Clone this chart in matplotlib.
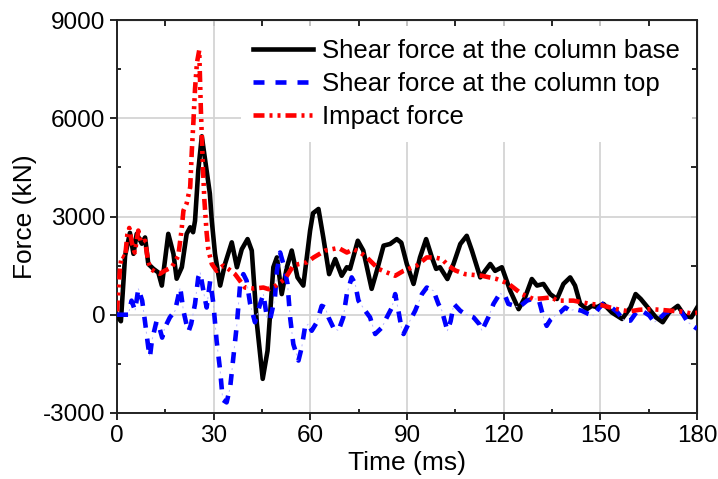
import numpy as np
import matplotlib.pyplot as plt
from matplotlib.ticker import MultipleLocator

# shear force at column base (black)
base_t = [0, 0.5, 1.2, 2.5, 4.0, 5.1, 6.1, 7.7, 8.7, 9.7, 11.3, 12.8, 13.9, 15.9, 17.5, 18.5,
          20.1, 21.6, 22.7, 23.6, 24.2, 25.2, 26.3, 27.8, 28.8, 29.4, 30.4, 32.0, 33.5, 35.6,
          37.2, 38.7, 40.5, 41.8, 43.4, 45.2, 46.7, 48.5, 49.6, 51.1, 52.7, 54.2, 56.0, 57.8,
          59.9, 60.8, 62.5, 64.0, 65.8, 67.7, 69.7, 71.3, 72.3, 74.7, 76.4, 79.0, 80.6, 82.7,
          84.7, 86.8, 88.2, 89.9, 92.0, 94.0, 95.9, 97.7, 99.0, 100.2, 102.5, 104.4, 106.5,
          108.5, 110.1, 112.7, 114.2, 115.8, 117.3, 119.4, 122.0, 124.6, 126.6, 128.7, 130.3,
          132.3, 134.4, 136.5, 138.5, 140.6, 142.1, 143.7, 145.8, 147.3, 148.9, 150.9, 153.5,
          156.7, 159.3, 160.9, 162.5, 165.1, 167.2, 169.3, 171.3, 174.0, 176.1, 178.2, 180]
base_f = [0, -100, -200, 1800, 2500, 1860, 2470, 2170, 2360, 1550, 1400, 1290, 890, 2470, 1860, 1100,
          1450, 2470, 2670, 2520, 2870, 4400, 5450, 4400, 3700, 2870, 1860, 890, 1550, 2210,
          1450, 2000, 2310, 1960, -280, -1960, -1100, 1450, 1750, 630, 1450, 1960, 1140, 890,
          2570, 3100, 3230, 2360, 1240, 1700, 1190, 1450, 1400, 2260, 1960, 790, 1340, 2110,
          2160, 2310, 2200, 1550, 940, 1750, 2310, 1750, 1400, 1450, 1090, 1550, 2160,
          2410, 1960, 1140, 1340, 1550, 1340, 1450, 730, 170, 530, 1090, 890,
          940, 630, 480, 940, 1140, 890, 330, 170, 270, 230, 330, 70,
          -130, 220, 630, 480, 170, -80, -230, 70, 270, -30, -80, 220]

# shear force at column top (blue)
top_t = [0, 1.5, 3.5, 4.5, 5.6, 6.6, 7.8, 8.7, 9.7, 10.2, 10.8, 12.3, 13.3, 14.0, 14.8, 16.4,
         18.0, 19.6, 20.6, 22.1, 23.0, 24.2, 25.2, 25.8, 26.8, 27.8, 28.9, 29.9, 30.9, 32.0,
         32.8, 34.0, 35.1, 36.1, 37.2, 38.2, 39.2, 40.2, 41.3, 42.8, 44.4, 45.4, 46.5, 47.5,
         49.0, 49.6, 50.6, 51.6, 52.9, 53.7, 54.7, 56.3, 57.3, 58.3, 59.4, 60.4, 62.0, 63.5,
         64.6, 65.6, 67.1, 68.7, 70.2, 71.3, 72.8, 73.9, 74.9, 77.0, 78.5, 80.1, 82.2, 83.7,
         85.3, 86.3, 87.3, 88.4, 88.9, 90.9, 92.5, 94.6, 96.1, 98.2, 99.7, 100.8, 102.5, 103.5,
         104.5, 106.5, 108.0, 110.6, 112.5, 113.2, 115.2, 116.8, 118.8, 120.4, 121.4, 123.5,
         124.6, 127.2, 128.7, 130.8, 132.3, 133.3, 134.5, 136.5, 137.5, 139.1, 140.6, 142.1,
         144.2, 146.3, 147.8, 149.5, 151.4, 152.5, 155.2, 157.3, 159.3, 161.9, 165.1, 166.7,
         168.5, 170.3, 172.9, 175.0, 177.1, 180]
top_f = [0, 0, 0, 430, 120, 800, 430, -230, -1000, -1300, -800, -180, -450, -700, -400, -80,
         120, 830, 120, -540, -280, 330, 1140, 1290, 730, 220, 1040, 330, -800, -1710,
         -2600, -2680, -2220, -1300, -280, 940, 1240, 1040, 330, -230, 330, 630, -80, -150,
         530, 1340, 1900, 1550, 940, -80, -900, -1400, -1000, -390, -280, -490, -230, 270,
         220, -80, -390, -490, -80, 630, 1140, 940, 430, 120, -80, -590, -390, -80,
         220, 630, 120, -490, -590, -180, 120, 630, 830, 730, 330, 120, -490, -200,
         330, 120, 20, -80, -300, -490, -80, 330, 650, 580, 330, 270,
         220, 430, 480, 480, -80, -340, -150, 20, 70, 220, 120, 170,
         120, 20, -30, 200, 390, 290, 80, -180, -180, 180, -20, -230,
         -100, 70, 120, 100, -230, -430]

# impact force (red)
imp_t = [0, 0.5, 1.0, 1.5, 2.5, 3.2, 3.8, 4.6, 5.5, 6.6, 7.4, 8.7, 9.6, 10.4, 12.0, 13.3,
         14.9, 17.0, 19.0, 20.0, 20.6, 21.6, 22.7, 23.2, 23.7, 24.2, 24.8, 25.5, 26.0, 26.6,
         27.1, 27.8, 28.3, 29.4, 30.9, 33.0, 34.5, 36.6, 39.7, 42.5, 45.4, 47.0, 49.5, 52.1,
         54.7, 56.5, 58.9, 61.0, 64.6, 68.7, 71.3, 73.4, 75.5, 77.5, 81.1, 83.5, 86.3, 88.9,
         93.0, 96.1, 98.5, 100.8, 102.8, 105.0, 108.0, 113.2, 117.8, 121.4, 125.6, 129.2,
         132.0, 134.9, 136.5, 141.6, 146.8, 150.0, 153.0, 156.0, 159.0, 162.0, 165.6, 168.5,
         171.9, 175.0, 178.0, 180]
imp_f = [100, 900, 1500, 1800, 1750, 2450, 2650, 2200, 1900, 2570, 2200, 2260, 1650, 1400, 1300, 1250,
         1350, 1450, 1800, 2570, 3180, 3400, 3900, 5000, 5900, 6900, 7700, 8080, 6300, 4600,
         3500, 2500, 2000, 1550, 1340, 1500, 1400, 1240, 830, 800, 830, 780, 900, 1090,
         1500, 1550, 1600, 1750, 1960, 2040, 1900, 2000, 1900, 1750, 1400, 1300, 1190, 1340,
         1500, 1750, 1750, 1700, 1500, 1350, 1240, 1190, 1090, 950, 630, 480,
         500, 530, 430, 430, 330, 300, 220, 150, 100, 150, 170, 150,
         120, 100, 40, 60]

plt.rcParams['font.family'] = ['Liberation Sans', 'DejaVu Sans']
plt.rcParams['lines.scale_dashes'] = False
plt.rcParams['axes.unicode_minus'] = False

fig = plt.figure(figsize=(7.18, 4.79), dpi=100)
ax = fig.add_axes([0.163, 0.138, 0.808, 0.820])

px = 0.72  # points per pixel
lw = 3.3
ax.plot(base_t, base_f, color='black', lw=lw, solid_joinstyle='round',
        label='Shear force at the column base', zorder=3)
ax.plot(top_t, top_f, color='#b8b8ff', lw=0.7,
        linestyle=(-15 * px, (2 * px, 20 * px)), zorder=3)
ax.plot(top_t, top_f, color='#0000ff', lw=lw, linestyle=(0, (11 * px, 11 * px)),
        label='Shear force at the column top', zorder=4)
ax.plot(imp_t, imp_f, color='#ff0000', lw=lw,
        linestyle=(0, (11 * px, 5 * px, 3 * px, 5 * px, 3 * px, 5 * px)),
        label='Impact force', zorder=5)

ax.set_xlim(0, 180)
ax.set_ylim(-3000, 9000)
ax.xaxis.set_major_locator(MultipleLocator(30))
ax.xaxis.set_minor_locator(MultipleLocator(15))
ax.yaxis.set_major_locator(MultipleLocator(3000))
ax.yaxis.set_minor_locator(MultipleLocator(1500))
ax.grid(True, which='major', color='#d4d4d4', lw=1.3)
ax.set_axisbelow(True)

for s in ax.spines.values():
    s.set_linewidth(1.4)
    s.set_color('#222222')
ax.tick_params(which='both', width=1.2, labelsize=17.5, top=False, right=False)
ax.tick_params(which='major', direction='out', length=5)
ax.tick_params(which='minor', direction='in', length=3)

# ticks pointing inward on top and right
ax2 = ax.secondary_xaxis('top')
ax2.xaxis.set_major_locator(MultipleLocator(15))
ax2.tick_params(direction='in', length=4, width=1.2, labeltop=False)
ax3 = ax.secondary_yaxis('right')
ax3.yaxis.set_major_locator(MultipleLocator(1500))
ax3.tick_params(direction='in', length=4, width=1.2, labelright=False)

ax.set_xlabel('Time (ms)', fontsize=19, labelpad=3)
ax.set_ylabel('Force (kN)', fontsize=19, labelpad=4)

leg = ax.legend(loc='upper left', bbox_to_anchor=(0.213, 0.985), fontsize=18.5,
                frameon=True, facecolor='white', edgecolor='none', framealpha=1,
                fancybox=False, borderaxespad=0, borderpad=0.5, handlelength=2.3,
                handletextpad=0.35, labelspacing=0.36)
leg.set_zorder(6)

fig.savefig('out.png', dpi=100)
